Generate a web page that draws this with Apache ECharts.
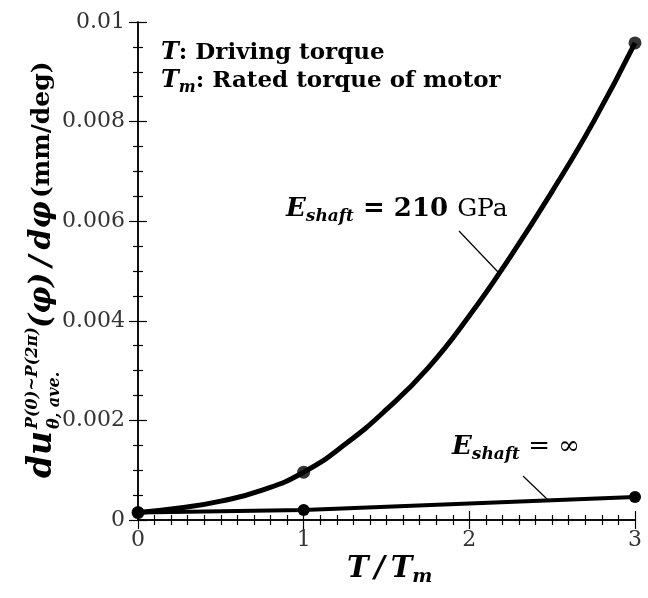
<!DOCTYPE html>
<html>
<head>
<meta charset="utf-8">
<script src="https://cdn.jsdelivr.net/npm/echarts@6/dist/echarts.min.js"></script>
<style>
  html, body { margin: 0; padding: 0; background: #fff; }
  #chart { width: 648px; height: 598px; }
</style>
</head>
<body>
<div id="chart"></div>
<script>
// T/Tm at the computed points
const torqueRatio = [0, 1, 3];
// E_shaft = 210 GPa, computed points
const shaft210 = [0.00015, 0.00096, 0.00958];
// E_shaft = infinity, computed points
const shaftInf = [0.00015, 0.0002, 0.00046];
// fitted curve through the 210 GPa points
const curveX = [0, 0.25, 0.5, 0.75, 1, 1.25, 1.5, 1.75, 2, 2.25, 2.5, 2.75, 3];
const curveY = [0.00015, 0.00024, 0.00038, 0.0006, 0.00096, 0.00152, 0.00222, 0.00305, 0.0041, 0.0053, 0.0066, 0.0080, 0.00958];

const serif = '"DejaVu Serif", "Liberation Serif", serif';
const chart = echarts.init(document.getElementById('chart'));

const tickStyle = { show: true, inside: true, length: 9, lineStyle: { color: '#000', width: 1.2 } };
const minorStyle = { show: true, length: 5, lineStyle: { color: '#000', width: 1.2 } };
const lineStyle = { show: true, lineStyle: { color: '#000', width: 1.5 } };

function pairs(xs, ys) {
    return xs.map((x, i) => [x, ys[i]]);
}

const option = {
    animation: false,
    backgroundColor: '#fff',
    grid: { left: 138, top: 22, right: 13, bottom: 78 },
    xAxis: [
        {
            type: 'value', min: 0, max: 3, interval: 1,
            axisLine: lineStyle, axisTick: tickStyle,
            minorTick: Object.assign({ splitNumber: 10 }, minorStyle),
            splitLine: { show: false },
            axisLabel: { color: '#333', fontFamily: serif, fontSize: 22, margin: 9 }
        },
        {
            type: 'value', position: 'top', min: 0, max: 3, interval: 1,
            axisLine: lineStyle, axisTick: tickStyle,
            minorTick: Object.assign({ splitNumber: 10 }, minorStyle),
            splitLine: { show: false }, axisLabel: { show: false }
        }
    ],
    yAxis: [
        {
            type: 'value', min: 0, max: 0.01, interval: 0.002,
            axisLine: lineStyle, axisTick: tickStyle,
            minorTick: Object.assign({ splitNumber: 4 }, minorStyle),
            splitLine: { show: false },
            axisLabel: { color: '#333', fontFamily: serif, fontSize: 22, margin: 13 }
        },
        {
            type: 'value', position: 'right', min: 0, max: 0.01, interval: 0.002,
            axisLine: lineStyle, axisTick: tickStyle,
            minorTick: Object.assign({ splitNumber: 4 }, minorStyle),
            splitLine: { show: false }, axisLabel: { show: false }
        }
    ],
    series: [
        {
            name: 'curve210', type: 'line', smooth: true, showSymbol: false,
            data: pairs(curveX, curveY),
            lineStyle: { color: '#000', width: 5 }
        },
        {
            name: '210 GPa', type: 'scatter', symbolSize: 13,
            data: pairs(torqueRatio, shaft210),
            itemStyle: { color: '#000' }
        },
        {
            name: 'inf', type: 'line', symbol: 'circle', symbolSize: 12,
            data: pairs(torqueRatio, shaftInf),
            lineStyle: { color: '#000', width: 4 },
            itemStyle: { color: '#000' }
        }
    ],
    graphic: [
        // notes, top left
        {
            type: 'text', left: 161, top: 41,
            style: {
                text: '{i|T}{b|: Driving torque}',
                rich: {
                    i: { font: 'italic bold 24px ' + serif, fill: '#000' },
                    b: { font: 'bold 23px ' + serif, fill: '#000' }
                }
            }
        },
        {
            type: 'text', left: 161, top: 69,
            style: {
                text: '{i|T}{s|m}{b|: Rated torque of motor}',
                rich: {
                    i: { font: 'italic bold 24px ' + serif, fill: '#000', lineHeight: 30 },
                    s: { font: 'italic bold 16px ' + serif, fill: '#000', lineHeight: 14, verticalAlign: 'bottom' },
                    b: { font: 'bold 23px ' + serif, fill: '#000', lineHeight: 30 }
                }
            }
        },
        // 210 GPa annotation
        {
            type: 'text', left: 286, top: 196,
            style: {
                text: '{i|E}{s|shaft}{b| = 210 }{r|GPa}',
                rich: {
                    i: { font: 'italic bold 26px ' + serif, fill: '#000', lineHeight: 32 },
                    s: { font: 'italic bold 17px ' + serif, fill: '#000', lineHeight: 15, verticalAlign: 'bottom' },
                    b: { font: 'bold 26px ' + serif, fill: '#000', lineHeight: 32 },
                    r: { font: '25px ' + serif, fill: '#000', lineHeight: 32 }
                }
            }
        },
        { type: 'line', shape: { x1: 459, y1: 231, x2: 498, y2: 272 }, style: { stroke: '#000', lineWidth: 1.2 } },
        // infinite stiffness annotation
        {
            type: 'text', left: 452, top: 434,
            style: {
                text: '{i|E}{s|shaft}{b| = ∞}',
                rich: {
                    i: { font: 'italic bold 26px ' + serif, fill: '#000', lineHeight: 32 },
                    s: { font: 'italic bold 17px ' + serif, fill: '#000', lineHeight: 15, verticalAlign: 'bottom' },
                    b: { font: '26px ' + serif, fill: '#000', lineHeight: 32 }
                }
            }
        },
        { type: 'line', shape: { x1: 523, y1: 476, x2: 547, y2: 499 }, style: { stroke: '#000', lineWidth: 1.2 } },
        // x axis name
        {
            type: 'text', left: 347, top: 555,
            style: {
                text: '{i|T\u2009/\u2009T}{s|m}',
                rich: {
                    i: { font: 'italic bold 29px ' + serif, fill: '#000', lineHeight: 34 },
                    s: { font: 'italic bold 19px ' + serif, fill: '#000', lineHeight: 15, verticalAlign: 'bottom' }
                }
            }
        },
        // y axis name, rotated; local x runs up the page
        {
            type: 'group', x: 42, y: 478, rotation: Math.PI / 2,
            children: [
                { type: 'text', style: { x: 0, y: 0, text: 'du', font: 'italic bold 33px ' + serif, fill: '#000', textVerticalAlign: 'middle' } },
                { type: 'text', style: { x: 49, y: -9, text: 'P(0)~P(2π)', font: 'italic bold 16px ' + serif, fill: '#000', textVerticalAlign: 'middle' } },
                { type: 'text', style: { x: 49, y: 13, text: 'θ, ave.', font: 'italic bold 16px ' + serif, fill: '#000', textVerticalAlign: 'middle' } },
                {
                    type: 'text',
                    style: {
                        x: 150, y: 0, textVerticalAlign: 'middle',
                        text: '{i|(φ)\u2009/\u2009dφ} {b|(mm/deg)}',
                        rich: {
                            i: { font: 'italic bold 30px ' + serif, fill: '#000' },
                            b: { font: 'bold 25px ' + serif, fill: '#000' }
                        }
                    }
                }
            ]
        }
    ]
};

chart.setOption(option);
</script>
</body>
</html>
